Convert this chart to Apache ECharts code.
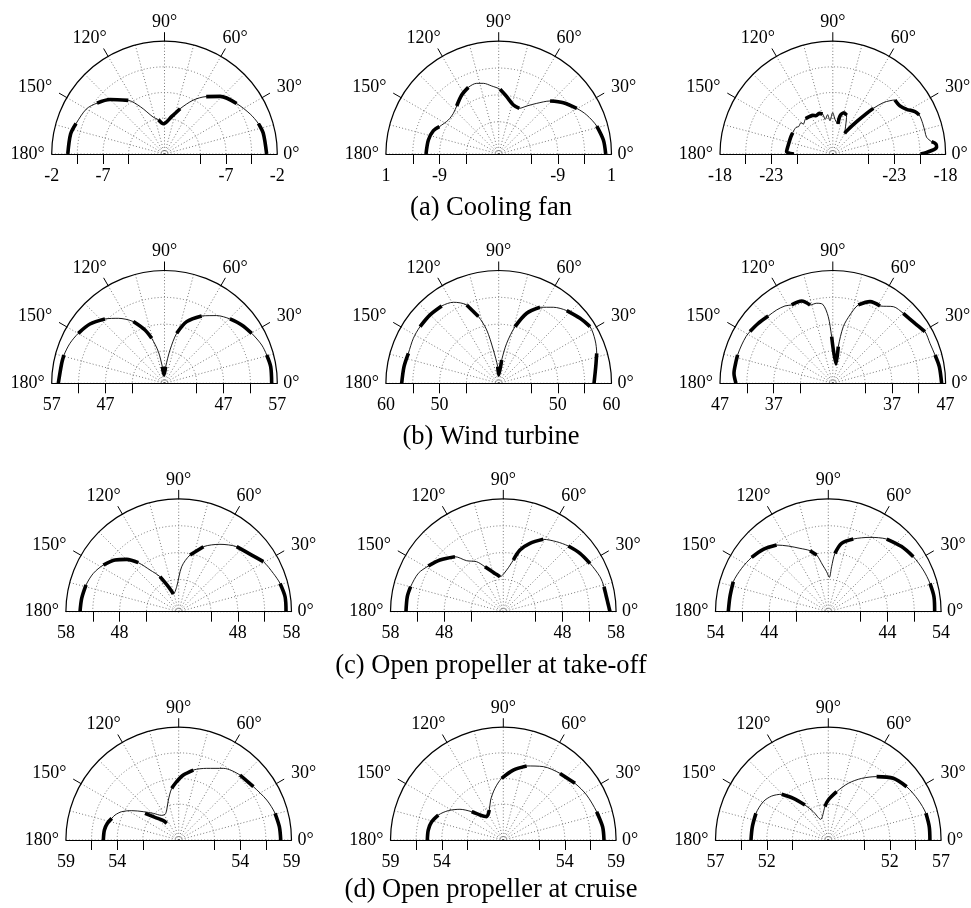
<!DOCTYPE html>
<html><head><meta charset="utf-8">
<script src="https://cdn.jsdelivr.net/npm/echarts@6/dist/echarts.min.js"></script>
<style>html,body{margin:0;padding:0;background:#fff}#c{width:971px;height:908px}</style>
</head><body><div id="c"></div><script>
// ---------- data: [angle (deg), level (dB)] ----------
const fan1 = [[0,-3.04],[12,-3.16],[18,-3.38],[25,-3.78],[35,-4.42],[46,-5.19],[54,-6.08],[62,-7.06],[71,-8.33],[79,-9.27],[92,-10.05],[100,-9.61],[107,-9.24],[117,-7.83],[124,-6.69],[135,-5.49],[143,-4.76],[150,-4.21],[161,-3.88],[168,-3.64],[180,-3.57]];
const fan1Thick = [[0,18],[35,54],[71,100],[124,143],[161,180]];
const fan2 = [[0,-0.08],[7.6,-0.34],[15.9,-1.02],[23.9,-2.08],[30.3,-3.17],[38.4,-4.63],[45.9,-6.26],[53.1,-8.21],[59.7,-9.65],[65.7,-10.67],[73.3,-10.48],[82.1,-9.22],[88.8,-7.96],[95.9,-7.27],[102.2,-6.54],[107.3,-6.22],[114.5,-6.37],[122.1,-7.04],[131.2,-8.13],[138.1,-8.66],[145.9,-8.69],[155.3,-7.84],[160.3,-7.09],[168.7,-6.65],[180,-6.47]];
const fan2Thick = [[0,16],[30,46],[65,90],[114,132],[155,180]];
const fan3 = [[0,-20.44],[1,-19.85],[2.3,-19.19],[3.7,-18.86],[5.5,-18.89],[7.1,-19.29],[10.1,-19.71],[13.6,-19.75],[18.8,-19.74],[24.3,-19.75],[27.3,-19.99],[31.2,-20.59],[35.6,-20.95],[41,-20.97],[43,-21.38],[45.5,-21.98],[48.4,-23.05],[50.2,-23.84],[53.6,-25.08],[59,-26.38],[60.2,-26.68],[70.5,-24.97],[74.9,-24.83],[79.3,-25.23],[80.2,-26.03],[85.8,-25.68],[90.2,-24.97],[94.9,-25.74],[97.5,-25.13],[102.2,-25.54],[104.3,-24.98],[108.4,-24.82],[113.7,-24.92],[117.5,-24.75],[122.2,-24.7],[127.6,-24.65],[134.5,-24.9],[135.5,-24.65],[141.3,-24.73],[144.1,-24.57],[152,-24.57],[158.4,-24.58],[167.2,-24.58],[177.1,-24.49],[180,-25.21]];
const fan3Thick = [[0,7.1],[24,41],[48,60.2],[70,80.2],[104,128],[150,180]];

const turbine1 = [[0,55.95],[8.9,56.01],[15.5,55.74],[21.5,55.45],[29.8,54.71],[37.1,54.01],[44.5,53.09],[52.4,51.91],[61.1,50.32],[70.2,48.2],[76.3,45.58],[80.6,42.29],[86,39.1],[93.4,37.55],[97.4,39.13],[101,42.01],[105.9,44.71],[110.1,46.57],[116.8,48.87],[125.4,50.84],[132.8,52.32],[141.5,53.73],[149.9,54.55],[157.1,55.11],[164.3,55.44],[169,55.5],[180,55.77]];
const turbine1Thick = [[0,16],[29,45],[61,77],[86,98],[105,117],[132,150],[164,180]];
const turbine2 = [[0,56.75],[9.7,57.33],[17,58.08],[24.2,58.67],[31.8,59.01],[38.6,58.38],[46.9,57.53],[54.3,56.43],[61.5,55.11],[68.2,53.04],[73.9,49.98],[78.7,46.6],[82.7,43.38],[90,40.55],[93.4,42.11],[99.1,45.29],[102.7,49.18],[106.9,51.98],[112.2,54.76],[119.2,56.28],[126.4,56.88],[135.1,57.04],[144.2,57.05],[152.2,56.96],[161.6,56.72],[170,56.9],[180,57.06]];
const turbine2Thick = [[0,18],[31,47],[61,76],[82,94],[106,113],[126,145],[160,180]];
const turbine3 = [[0,46.26],[8.9,46.07],[15.5,45.74],[22.4,45.56],[29.3,45.67],[36.1,44.94],[44.8,44.49],[51.7,44.18],[58.6,42.87],[65.5,42.71],[72,41.34],[75.9,39.12],[79.5,36.73],[81.5,32.9],[80.7,29.65],[91.4,34.69],[93.9,38.44],[97.3,40.83],[101.4,41.2],[106.2,41.19],[110.7,42.39],[117.7,42.48],[121.7,42.93],[127.5,43.2],[133.8,43.36],[141.2,43.81],[148,44.18],[151.7,44.35],[157.2,44.41],[163.4,44.49],[168.4,44.47],[174.2,44.49],[180,44.03]];
const turbine3Thick = [[0,16],[29,45],[58,72],[80,92],[106,121],[133,149],[163,180]];

const takeoff1 = [[0,56.98],[8,57],[15.6,56.59],[22,56.01],[30.6,55.31],[37.8,54.2],[48.3,53.22],[58.5,51.71],[69.2,49.95],[78.7,47.76],[86.2,45.4],[94.6,41.67],[106.8,40.44],[112.5,42.04],[118.1,44.39],[124.5,46.42],[129.5,48.82],[134.8,50.74],[140.9,52.27],[148.2,53.5],[155.8,54.42],[163.9,54.95],[172.2,55.23],[180,55.37]];
const takeoff1Thick = [[0,16],[30,49],[66,84],[100,119],[129,149],[163,180]];
const takeoff2 = [[0,56.86],[13.9,56.31],[19.9,56.14],[29.1,55.48],[37.3,54.94],[45.3,54.2],[52.7,53.38],[61.1,52.39],[68.7,50.66],[74.9,48.89],[79,46.8],[85.4,44.78],[95.4,43.55],[102.3,44.3],[112.2,46.05],[118.1,47.55],[125.7,48.69],[131.3,50.63],[140.8,52.22],[148.7,53.35],[155.7,54.36],[164.9,54.87],[171.1,55.09],[180,55.12]];
const takeoff2Thick = [[0,16],[29,46],[61,79],[93,116],[131,149],[164,180]];
const takeoff3 = [[0,52.8],[8.1,52.87],[15.6,52.65],[23.7,52.31],[32.9,51.85],[41.6,51.25],[51.2,50.35],[60.7,48.87],[71,47.31],[79,45.96],[83.5,43.93],[85.8,41.4],[88.3,39.39],[92.4,40.45],[96.9,41.75],[101.6,43.77],[106.7,44.86],[114.1,45.92],[121.4,47.32],[127.8,48.7],[136.2,49.77],[144.7,50.49],[153.4,51.04],[162.5,51.55],[171.3,51.52],[180,51.62]];
const takeoff3Thick = [[0,16],[32,52],[70,84],[101,108],[127,145],[162,180]];

const cruise1 = [[0,57.95],[7.5,57.9],[15.5,57.75],[24.4,57.43],[35.5,56.95],[46.7,56.71],[58.1,56.23],[68.7,55.5],[78.2,54.97],[85.9,54.35],[92,53.69],[97.7,53.08],[104.5,52.03],[111.8,51.15],[118,50.83],[124.6,50.92],[133.5,51.58],[141.3,52.42],[148,53.4],[153.6,54.21],[158.6,54.67],[162.1,54.86],[166.8,55.14],[172.3,55.31],[180,55.35]];
const cruise1Thick = [[0,16],[35,58],[78,98],[160,180]];
const cruise1Hook = [[141.6,52.19],[136.2,51.19],[128.4,50.41],[125.8,50.0]];
const cruise2 = [[0,57.82],[7.6,57.77],[16.9,57.51],[28.4,57.23],[38.3,56.91],[49.6,56.53],[61.4,56.15],[72.5,55.57],[81.9,54.89],[91.5,54.02],[99.2,53.1],[107.6,52.09],[115,51.23],[125.5,50.8],[133,51.33],[138.2,52.14],[144.7,53.18],[151.9,54.08],[159,54.79],[165.7,55.21],[172.4,55.38],[180,55.41]];
const cruise2Thick = [[0,17],[38,50],[72,92],[115,141],[158,180]];
const cruise3 = [[0,55.91],[7.5,55.93],[15.3,55.87],[24,55.6],[34.2,55.24],[43.5,54.74],[52.7,53.77],[61.6,52.83],[70.6,51.86],[80.2,50.78],[90,49.9],[95.7,49.27],[110.4,48.15],[117.9,49.13],[123.7,50.1],[130,51.3],[135.6,52.37],[142.2,52.99],[149.5,53.36],[159.8,53.52],[170,53.52],[180,53.54]];
const cruise3Thick = [[0,16],[34,53],[72,96],[120,136],[156,180]];

// axis ranges per panel (outer value, centre value, tick step)
const radialMax  = [-2, 1, -18, 57, 60, 47, 58, 58, 54, 59, 59, 57];
const radialMin  = [-13, -20, -29, 36, 39, 26, 37, 37, 33, 48, 48, 46];
const radialStep = [2.5, 5, 2.5, 5, 5, 5, 5, 5, 5, 2.5, 2.5, 2.5];
const angleLabels = [0, 30, 60, 90, 120, 150, 180];
const angleTicks = [30, 60, 90, 120, 150];
const captions = ['(a) Cooling fan', '(b) Wind turbine', '(c) Open propeller at take-off', '(d) Open propeller at cruise'];

// ---------- layout ----------
const panels = [
  {line: fan1, thick: fan1Thick}, {line: fan2, thick: fan2Thick}, {line: fan3, thick: fan3Thick},
  {line: turbine1, thick: turbine1Thick}, {line: turbine2, thick: turbine2Thick}, {line: turbine3, thick: turbine3Thick},
  {line: takeoff1, thick: takeoff1Thick}, {line: takeoff2, thick: takeoff2Thick}, {line: takeoff3, thick: takeoff3Thick},
  {line: cruise1, thick: cruise1Thick, extra: [cruise1Hook]}, {line: cruise2, thick: cruise2Thick}, {line: cruise3, thick: cruise3Thick}
];
const FONT = '"Liberation Serif", "Times New Roman", serif';
const R = 112.8;
const colX = [[164.5, 498.7, 832.8], [164.5, 498.7, 832.8], [178.7, 503.3, 828.3], [178.7, 503.3, 828.3]];
const rowY = [154, 383.3, 611.7, 840];
const captionY = [208, 437, 666, 890];

const dotted = {color: '#555', width: 0.8, type: [1, 2.2]};
const pad = {0: [0, 0, 0, 3], 30: [0, 0, 0, 12], 60: [0, 0, 6, 0], 90: [0, 0, 7, 0], 120: [0, 0, 6, 0], 150: [0, 12, 0, 0], 180: [0, 4, 0, 0]};
const rich = {};
angleLabels.forEach(a => { rich['a' + a] = {padding: pad[a], fontFamily: FONT, fontSize: 18, color: '#000'}; });

const polar = [], angleAxis = [], radiusAxis = [], series = [];
const toPolar = pts => pts.map(([a, v]) => [v, a]);
const lineBase = {type: 'line', coordinateSystem: 'polar', showSymbol: false, symbol: 'none', smooth: 0.3, silent: true, animation: false};

panels.forEach((p, k) => {
  const row = Math.floor(k / 3), col = k % 3;
  const center = [colX[row][col], rowY[row]];
  const M = radialMax[k], m = radialMin[k], s = radialStep[k];
  const tickVals = [M - s, M - 2 * s, M - 3 * s];
  const labelVals = [M, M - 2 * s];
  const A = 2 * k, B = 2 * k + 1;
  polar.push({center, radius: R}, {center, radius: R});
  angleAxis.push({
    polarIndex: A, type: 'value', min: 0, max: 180, interval: 15, startAngle: 0, endAngle: 180, clockwise: false,
    axisLine: {lineStyle: {color: '#000', width: 1.2}},
    axisTick: {show: false},
    axisLabel: {customValues: angleLabels, margin: 3, formatter: v => '{a' + v + '|' + v + '°}', rich, color: '#000', fontFamily: FONT, fontSize: 18},
    splitLine: {show: true, lineStyle: dotted}
  }, {
    polarIndex: B, type: 'value', min: 0, max: 180, startAngle: 180, endAngle: 0, clockwise: true,
    axisLine: {show: false}, axisLabel: {show: false}, splitLine: {show: false},
    axisTick: {show: true, customValues: angleTicks, length: 9, lineStyle: {color: '#000', width: 1}}
  });
  const fmt = v => String(Math.round(v * 10) / 10);
  const radBase = {type: 'value', min: m, max: M,
    axisLine: {show: true, lineStyle: {color: '#000', width: 1.2}}};
  radiusAxis.push(Object.assign({}, radBase, {
    polarIndex: A,
    axisTick: {show: true, customValues: tickVals, length: -10, lineStyle: {color: '#000', width: 1}},
    axisLabel: {show: true, customValues: labelVals, margin: -13, verticalAlign: 'top', align: 'center', formatter: fmt, color: '#000', fontFamily: FONT, fontSize: 18},
    splitLine: {show: true, lineStyle: dotted}
  }), Object.assign({}, radBase, {
    polarIndex: B,
    axisTick: {show: true, customValues: tickVals, length: 10, lineStyle: {color: '#000', width: 1}},
    axisLabel: {show: true, customValues: labelVals, margin: 13, verticalAlign: 'top', align: 'center', formatter: fmt, color: '#000', fontFamily: FONT, fontSize: 18},
    splitLine: {show: false}
  }));
  series.push(Object.assign({}, lineBase, {polarIndex: A, data: toPolar(p.line), z: 3,
    lineStyle: {color: '#000', width: 0.9}}));
  p.thick.forEach(([lo, hi]) => {
    const seg = p.line.filter(([a]) => a >= lo && a <= hi);
    series.push(Object.assign({}, lineBase, {polarIndex: A, data: toPolar(seg), z: 4,
      lineStyle: {color: '#000', width: 3.6}}));
  });
  (p.extra || []).forEach(seg => {
    series.push(Object.assign({}, lineBase, {polarIndex: A, data: toPolar(seg), z: 4,
      lineStyle: {color: '#000', width: 3.6}}));
  });
});

const graphic = captions.map((t, i) => ({
  type: 'text', x: 491, y: captionY[i],
  style: {text: t, align: 'center', verticalAlign: 'middle', fontFamily: FONT, fontSize: 26.5, fill: '#000'}
}));

const chart = echarts.init(document.getElementById('c'), null, {renderer: 'canvas', width: 971, height: 908});
chart.setOption({backgroundColor: '#fff', animation: false, polar, angleAxis, radiusAxis, series, graphic});
</script></body></html>
